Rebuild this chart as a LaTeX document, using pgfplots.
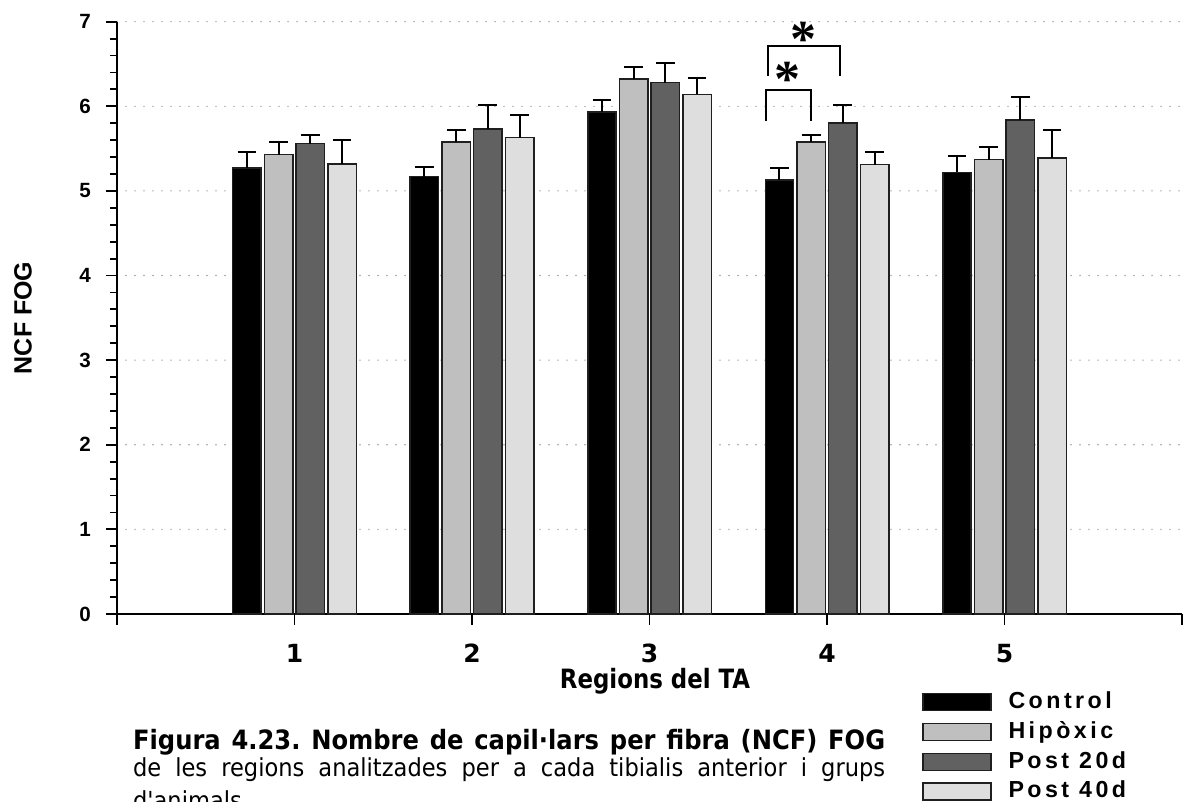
\documentclass[border=0pt]{standalone}
\usepackage{fontspec}
\setmainfont{Liberation Sans}
\newfontfamily\djv{DejaVu Sans}
\newfontfamily\djn{DejaVu Sans}[FakeStretch=0.86]
\newfontfamily\djc{DejaVu Sans}[FakeStretch=0.91]
\newfontfamily\legfont{Liberation Sans}[LetterSpace=15]
\newfontfamily\serf{Liberation Serif}
\usepackage{pgfplots}
\usepackage{pgfplotstable}
\pgfplotsset{compat=1.18}
\frenchspacing

\definecolor{cHip}{gray}{0.75}
\definecolor{cPa}{gray}{0.38}
\definecolor{cPb}{gray}{0.87}
\definecolor{edge}{gray}{0.12}

% bar centres: region +/- offsets of the four groups
\pgfplotstableread{
xc c ce xh h he xa pa pae xb pb pbe
0.7321 5.27 0.19  0.9107 5.43 0.15  1.0893 5.56 0.10  1.2679 5.32 0.28
1.7321 5.17 0.115 1.9107 5.58 0.14  2.0893 5.73 0.29  2.2679 5.63 0.27
2.7321 5.93 0.145 2.9107 6.32 0.145 3.0893 6.28 0.235 3.2679 6.14 0.20
3.7321 5.13 0.14  3.9107 5.58 0.08  4.0893 5.80 0.22  4.2679 5.31 0.155
4.7321 5.22 0.19  4.9107 5.37 0.155 5.0893 5.84 0.27  5.2679 5.39 0.33
}\data

\pgfplotsset{
  barsty/.style={ybar, bar width=14.2pt, bar shift=0pt, draw=edge, line width=0.75pt,
    legend image code/.code={\draw[##1] (0pt,-4.25pt) rectangle (34pt,4.25pt);},
    error bars/y dir=plus, error bars/y explicit,
    error bars/error bar style={black, line width=1pt},
    error bars/error mark options={rotate=90, mark size=4.7pt, line width=1pt, black}},
}

\begin{document}
\begin{tikzpicture}
\begin{axis}[
  at={(0,0)}, anchor=south west,
  scale only axis, width=532.5pt, height=296.15pt,
  xmin=0, xmax=6, ymin=0, ymax=7,
  xtick={0,1,2,3,4,5,6}, xticklabels={,1,2,3,4,5,},
  ytick={0,1,2,3,4,5,6,7}, minor y tick num=4,
  tick align=outside, tick pos=left,
  major tick length=5.5pt, minor tick length=3.5pt,
  tick style={black, line width=0.9pt},
  axis x line*=bottom, axis y line*=left,
  axis line style={black, line width=1pt, -},
  ymajorgrids,
  major grid style={gray!75, line width=0.8pt, line cap=round, dash pattern=on 0pt off 4.5pt},
  /pgf/number format/assume math mode=true,
  yticklabel style={font=\bfseries\fontsize{10.3}{10.3}\selectfont, anchor=east, xshift=-4pt},
  xticklabel style={font=\djv\bfseries\fontsize{12.5}{12.5}\selectfont, anchor=north, yshift=-6pt},
  xlabel={Regions del TA},
  xlabel style={at={(axis description cs:0.5052,0)}, anchor=base, yshift=-37.5pt, font=\djn\bfseries\fontsize{13.3}{13.3}\selectfont},
  ylabel={NCF FOG},
  ylabel style={at={(axis description cs:-0.0883,0.5)}, anchor=center, font=\bfseries\fontsize{12.5}{12.5}\selectfont},
  clip=false,
  legend cell align=left,
  legend style={at={(axis description cs:0.7555,-0.1260)}, anchor=north west, draw=none, fill=none,
    inner sep=0pt, row sep=1.95pt, column sep=7.5pt,
    font=\legfont\bfseries\fontsize{11.6}{12}\selectfont,
    nodes={inner sep=1pt, text height=8.6pt, text depth=2.4pt}},
]
\addplot[barsty, fill=black] table[x=xc, y=c, y error=ce]{\data};
\addlegendentry{Control}
\addplot[barsty, fill=cHip] table[x=xh, y=h, y error=he]{\data};
\addlegendentry{Hipòxic}
\addplot[barsty, fill=cPa] table[x=xa, y=pa, y error=pae]{\data};
\addlegendentry{Post 20d}
\addplot[barsty, fill=cPb] table[x=xb, y=pb, y error=pbe]{\data};
\addlegendentry{Post 40d}

\addplot[sharp plot, black, line width=1pt, forget plot] coordinates {(3.655,5.827) (3.655,6.194) (3.911,6.194) (3.911,5.827)};
\addplot[sharp plot, black, line width=1pt, forget plot] coordinates {(3.666,6.359) (3.666,6.717) (4.073,6.717) (4.073,6.359)};
\node[anchor=base, inner sep=0pt, font=\serf\bfseries\fontsize{26}{26}\selectfont] at (axis cs:3.779,6.111) {*};
\node[anchor=base, inner sep=0pt, font=\serf\bfseries\fontsize{26}{26}\selectfont] at (axis cs:3.869,6.589) {*};
\end{axis}

\node[anchor=base west, inner sep=0pt] at (7.85pt,-68pt) {\djc\bfseries\fontsize{13.3}{13.3}\selectfont\makebox[376pt][s]{Figura 4.23. Nombre de capil·lars per fibra (NCF) FOG}};
\node[anchor=base west, inner sep=0pt] at (7.85pt,-81.5pt) {\djc\fontsize{12.4}{12.4}\selectfont\makebox[376pt][s]{de les regions analitzades per a cada tibialis anterior i grups}};
\node[anchor=base west, inner sep=0pt] at (7.85pt,-98pt) {\djc\fontsize{12.4}{12.4}\selectfont d'animals.};

\pgfresetboundingbox
\path[use as bounding box] (-58.5pt,-94pt) rectangle (533pt,307pt);
\end{tikzpicture}
\end{document}
